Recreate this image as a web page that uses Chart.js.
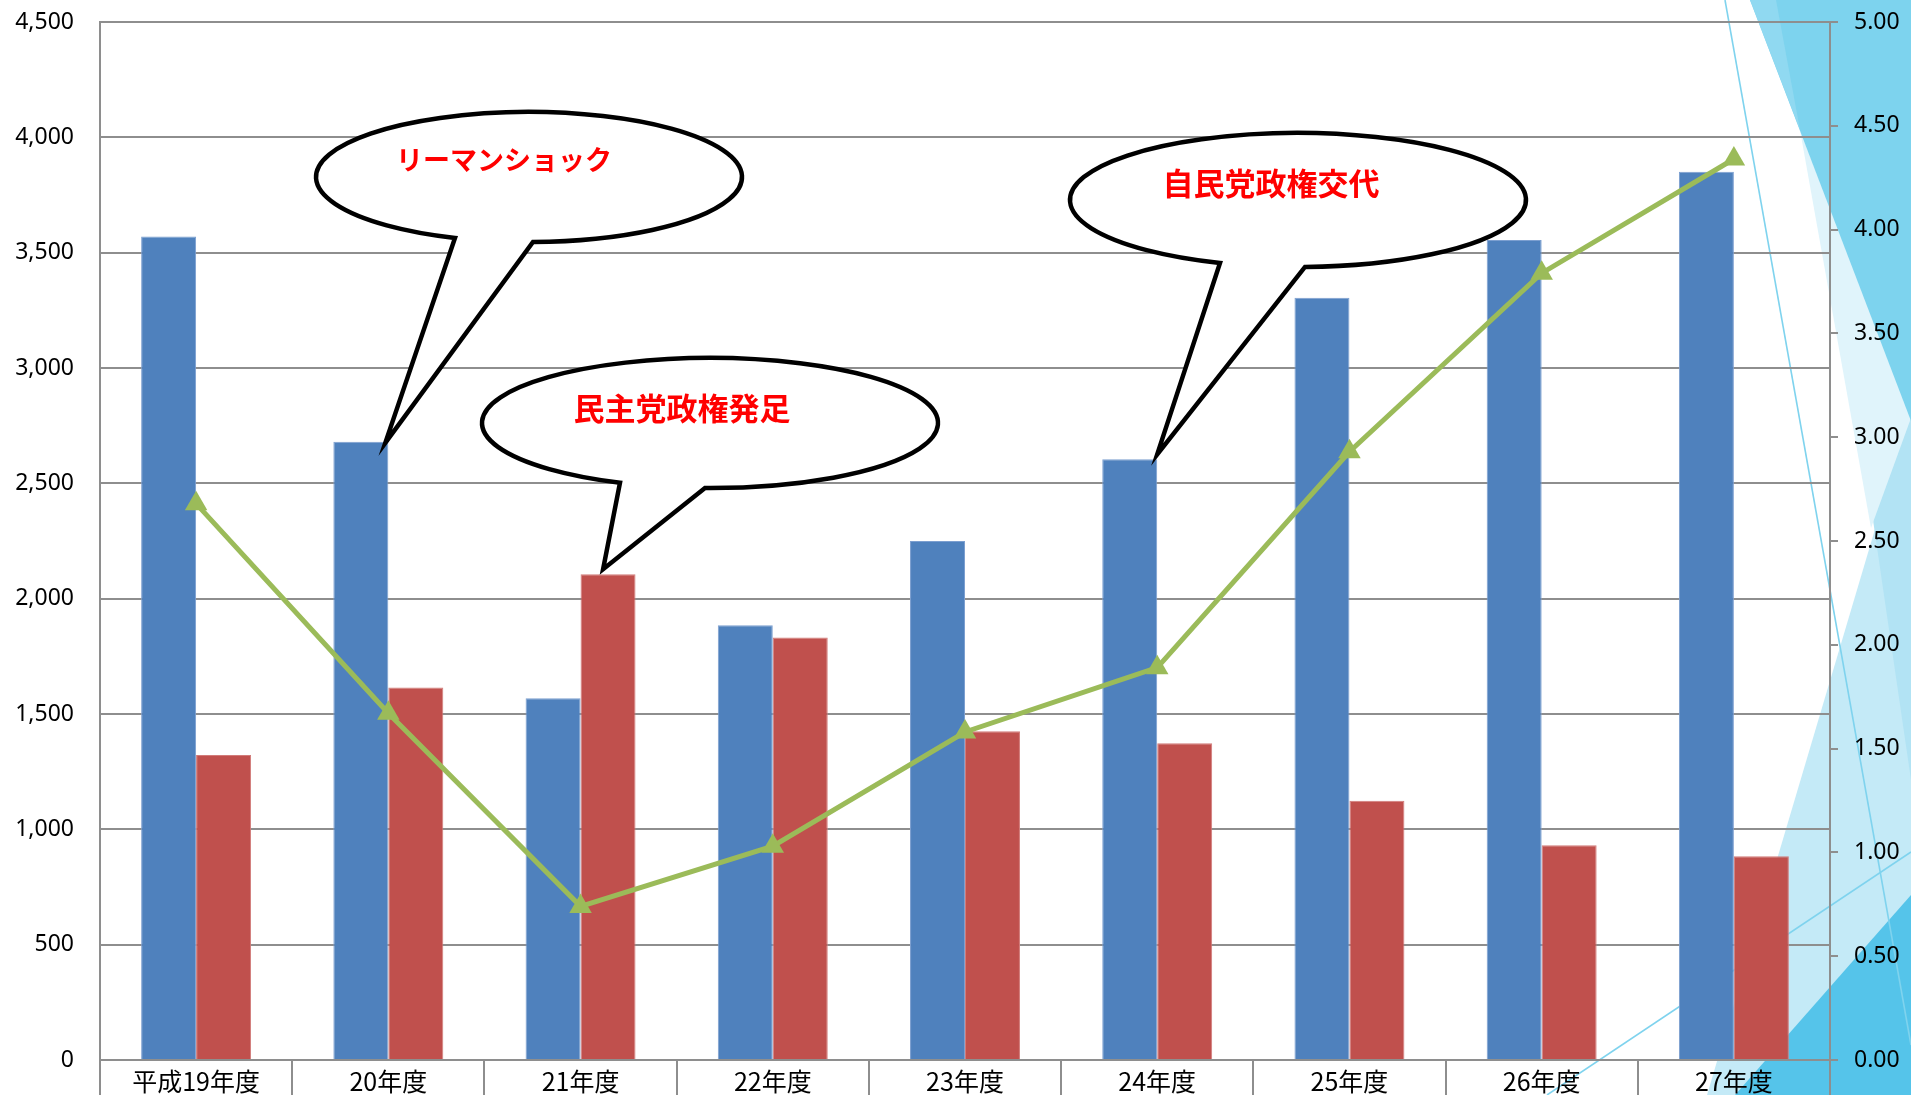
<!DOCTYPE html>
<html>
<head>
<meta charset="utf-8">
<script src="https://cdn.jsdelivr.net/npm/chart.js@4/dist/chart.umd.min.js"></script>
<style>
  html, body { margin: 0; padding: 0; background: #fff; overflow: hidden; }
  #wrap { width: 1911px; height: 1095px; position: relative; }
</style>
</head>
<body>
<div id="wrap"><canvas id="chart"></canvas></div>
<script>
// ---- data ----
const categories = ['平成19年度', '20年度', '21年度', '22年度', '23年度', '24年度', '25年度', '26年度', '27年度'];
const seriesA = [3570, 2680, 1568, 1885, 2250, 2604, 3305, 3555, 3851];   // left axis, blue bars
const seriesB = [1322, 1615, 2106, 1832, 1425, 1373, 1124, 931, 883];     // left axis, red bars
const ratio   = [2.68, 1.67, 0.74, 1.03, 1.58, 1.89, 2.93, 3.79, 4.34];   // right axis, line
const leftAxis  = { min: 0, max: 4500, step: 500 };
const rightAxis = { min: 0, max: 5, step: 0.5 };

// callout bubbles: text, the bar they point at, and where they sit
const callouts = [
  { text: 'リーマンショック', dataset: 0, index: 1,
    cx: 529, cy: 177, rx: 213, ry: 65, baseL: 455, baseR: 533,
    tipFrac: 0.445, tipDy: 1, tx: 504, ty: 160, size: 27 },
  { text: '民主党政権発足', dataset: 1, index: 2,
    cx: 710, cy: 423, rx: 228, ry: 65, baseL: 620, baseR: 705,
    tipFrac: -0.09, tipDy: -5, tx: 682, ty: 408, size: 31 },
  { text: '自民党政権交代', dataset: 0, index: 5,
    cx: 1298, cy: 200, rx: 228, ry: 67, baseL: 1220, baseR: 1305,
    tipFrac: 0.5, tipDy: -5, tx: 1271, ty: 183, size: 31 }
];

const GRID = '#8e8e8e';
const LABEL_FONT = { family: "'Noto Sans', 'Noto Sans CJK JP', sans-serif", size: 23, lineHeight: 0.5 };

// slide-style decoration in the right-hand corner, painted behind the chart
const backdrop = {
  id: 'backdrop',
  beforeDraw(chart) {
    const ctx = chart.ctx;
    ctx.save();
    ctx.fillStyle = '#ffffff';
    ctx.fillRect(0, 0, chart.width, chart.height);
    const poly = (color, pts) => {
      ctx.beginPath();
      ctx.moveTo(pts[0][0], pts[0][1]);
      for (let i = 1; i < pts.length; i++) ctx.lineTo(pts[i][0], pts[i][1]);
      ctx.closePath();
      ctx.fillStyle = color;
      ctx.fill();
    };
    const line = (color, w, a, b) => {
      ctx.beginPath();
      ctx.moveTo(a[0], a[1]);
      ctx.lineTo(b[0], b[1]);
      ctx.strokeStyle = color;
      ctx.lineWidth = w;
      ctx.stroke();
    };
    poly('#c4eaf7', [[1911, 408], [1911, 1095], [1707, 1095]]);
    poly('#b2e3f4', [[1873, 520], [1911, 408], [1911, 780]]);
    poly('#e0f4fb', [[1800, 130], [1911, 418], [1871, 528]]);
    poly('#7dd3ee', [[1750, 0], [1911, 0], [1911, 421]]);
    poly('#90d9f1', [[1750, 0], [1776, 0], [1800, 130]]);
    poly('#55c4ea', [[1911, 895], [1911, 1095], [1735, 1095]]);
    line('#7fd3ee', 1.6, [1725, 0], [1911, 1045]);
    line('#7fd3ee', 1.6, [1547, 1095], [1911, 852]);
    ctx.restore();
  }
};

// speech bubbles pointing at bar tops
const bubbles = {
  id: 'bubbles',
  afterDatasetsDraw(chart) {
    const ctx = chart.ctx;
    ctx.save();
    callouts.forEach(c => {
      const bar = chart.getDatasetMeta(c.dataset).data[c.index];
      const tipX = bar.x + bar.width * c.tipFrac;
      const tipY = bar.y + c.tipDy;
      const angle = x => Math.acos(Math.max(-1, Math.min(1, (x - c.cx) / c.rx)));
      const tL = angle(c.baseL);
      const tR = angle(c.baseR);
      ctx.beginPath();
      ctx.ellipse(c.cx, c.cy, c.rx, c.ry, 0, tL, tR + Math.PI * 2, false);
      ctx.lineTo(tipX, tipY);
      ctx.closePath();
      ctx.fillStyle = '#ffffff';
      ctx.fill();
      ctx.lineWidth = 4.5;
      ctx.lineJoin = 'miter';
      ctx.strokeStyle = '#000000';
      ctx.stroke();
      ctx.fillStyle = '#ff0000';
      ctx.font = `bold ${c.size}px 'Noto Sans CJK JP', sans-serif`;
      ctx.textAlign = 'center';
      ctx.textBaseline = 'middle';
      ctx.fillText(c.text, c.tx, c.ty);
    });
    ctx.restore();
  }
};

new Chart(document.getElementById('chart'), {
  type: 'bar',
  data: {
    labels: categories,
    datasets: [
      { label: '系列1', data: seriesA, backgroundColor: '#4f81bd', borderColor: '#7c9fd0', borderWidth: 1,
        yAxisID: 'y', order: 1, categoryPercentage: 0.572, barPercentage: 1.0 },
      { label: '系列2', data: seriesB, backgroundColor: '#c0504d', borderColor: '#d27b79', borderWidth: 1,
        yAxisID: 'y', order: 1, categoryPercentage: 0.572, barPercentage: 1.0 },
      { type: 'line', label: '系列3', data: ratio, yAxisID: 'y1', order: 0,
        borderColor: '#9bbb59', borderWidth: 5, tension: 0,
        pointStyle: 'triangle', pointRadius: 13, pointHoverRadius: 13,
        pointBackgroundColor: '#9bbb59', pointBorderColor: '#9bbb59', pointBorderWidth: 0 }
    ]
  },
  options: {
    responsive: true,
    maintainAspectRatio: false,
    animation: false,
    events: [],
    layout: { padding: { top: 22, left: 0, right: 0, bottom: 0 } },
    plugins: { legend: { display: false }, tooltip: { enabled: false } },
    scales: {
      x: {
        offset: true,
        grid: { display: true, offset: true, drawOnChartArea: false, drawTicks: true,
                tickLength: 40, color: GRID, lineWidth: 2 },
        border: { display: true, color: GRID, width: 2 },
        ticks: { color: '#000', font: { family: "'Noto Sans CJK JP', sans-serif", size: 25 },
                 padding: -34, maxRotation: 0, autoSkip: false },
        afterFit: s => { s.height = 35; }
      },
      y: {
        position: 'left',
        min: leftAxis.min, max: leftAxis.max,
        grid: { color: GRID, lineWidth: 2, drawTicks: true, tickLength: 20, tickColor: 'rgba(0,0,0,0)' },
        border: { display: true, color: GRID, width: 2 },
        ticks: { stepSize: leftAxis.step, color: '#000', font: LABEL_FONT, padding: 6,
                 callback: v => v.toLocaleString('en-US') },
        afterFit: s => { s.width = 100; }
      },
      y1: {
        position: 'right',
        min: rightAxis.min, max: rightAxis.max,
        grid: { drawOnChartArea: false, drawTicks: true, tickLength: 8, color: GRID, lineWidth: 2 },
        border: { display: true, color: GRID, width: 2 },
        ticks: { stepSize: rightAxis.step, color: '#000', font: LABEL_FONT, padding: 16,
                 callback: v => Number(v).toFixed(2) },
        afterFit: s => { s.width = 81; }
      }
    }
  },
  plugins: [backdrop, bubbles]
});
</script>
</body>
</html>
